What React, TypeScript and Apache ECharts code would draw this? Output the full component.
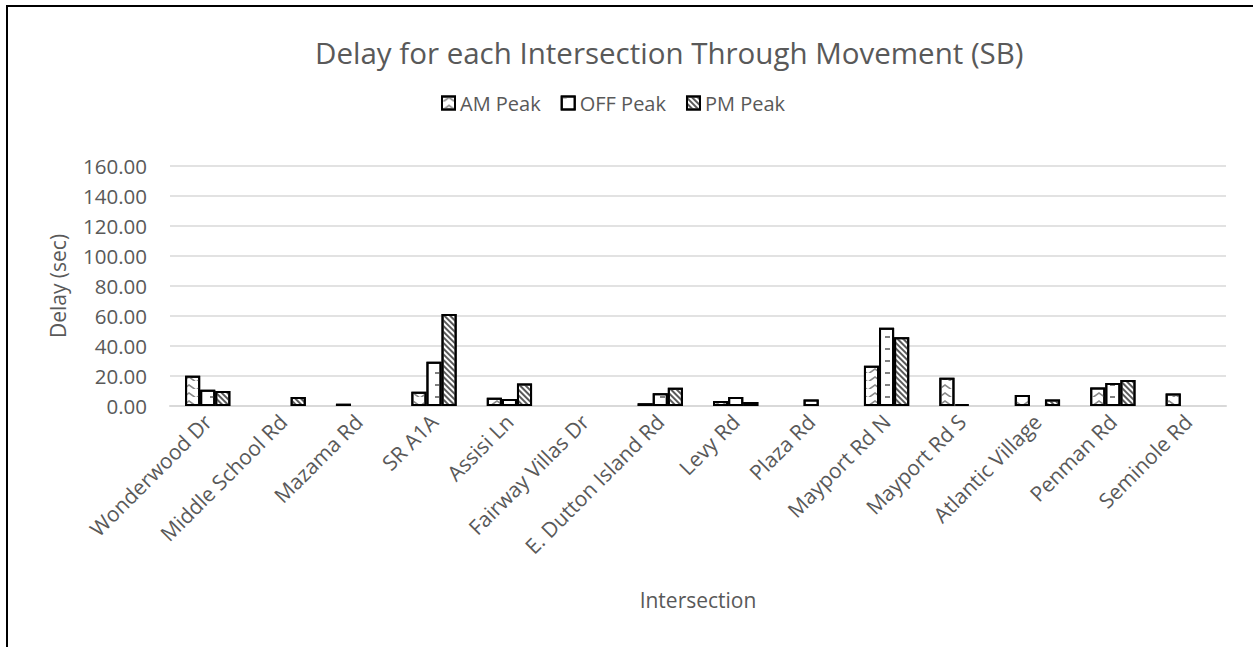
import React, { useEffect, useRef } from "react";
import * as echarts from "echarts";

const categories = [
  "Wonderwood Dr",
  "Middle School Rd",
  "Mazama Rd",
  "SR A1A",
  "Assisi Ln",
  "Fairway Villas Dr",
  "E. Dutton Island Rd",
  "Levy Rd",
  "Plaza Rd",
  "Mayport Rd N",
  "Mayport Rd S",
  "Atlantic Village",
  "Penman Rd",
  "Seminole Rd",
];

const amPeak = [20.2, 0, 1.5, 9.5, 5.5, 0, 1.8, 3.3, 0, 26.9, 18.9, 7.3, 12.4, 8.4];
const offPeak = [10.9, 0, 0, 29.5, 4.7, 0, 8.5, 6.0, 4.4, 52.2, 1.2, 0, 15.3, 0];
const pmPeak = [10.0, 6.0, 0, 61.3, 15.0, 0, 12.2, 2.7, 0, 45.9, 0, 4.4, 17.3, 0];

const yTicks = { min: 0, max: 160, interval: 20 };

const FONT = "'Open Sans', sans-serif";
const GREY = "#595959";

// zero values draw nothing in the reference, so they are passed as empty
const toData = (arr: number[]) => arr.map((v) => (v === 0 ? "-" : v));

export default function App() {
  const ref = useRef<HTMLDivElement>(null);

  useEffect(() => {
    if (!ref.current) return;
    const chart = echarts.init(ref.current, undefined, { renderer: "svg" });
    const baseItem = { color: "#ffffff", borderColor: "#000000", borderWidth: 2 };
    chart.setOption({
      animation: false,
      textStyle: { fontFamily: FONT },
      graphic: [
        {
          type: "polyline",
          silent: true,
          shape: { points: [[7, 700], [7, 6], [1300, 6]] },
          style: { stroke: "#000", lineWidth: 2, fill: "none" },
        },
      ],
      title: {
        text: "Delay for each Intersection Through Movement (SB)",
        left: 310,
        top: 32,
        textStyle: { fontFamily: FONT, fontSize: 29.5, fontWeight: "normal", color: GREY },
      },
      legend: {
        left: 436,
        top: 88,
        itemWidth: 13,
        itemHeight: 13,
        itemGap: 20,
        icon: "rect",
        textStyle: { fontFamily: FONT, fontSize: 20, color: GREY },
        data: ["AM Peak", "OFF Peak", "PM Peak"],
      },
      grid: { left: 170, right: 27, top: 166, bottom: 241, containLabel: false },
      xAxis: {
        type: "category",
        data: categories,
        name: "Intersection",
        nameLocation: "middle",
        nameGap: 183,
        nameTextStyle: { fontFamily: FONT, fontSize: 21, color: GREY },
        axisTick: { show: false },
        axisLine: { lineStyle: { color: "#d9d9d9", width: 2 } },
        axisLabel: {
          rotate: 45,
          interval: 0,
          margin: 12,
          fontFamily: FONT,
          fontSize: 21,
          color: GREY,
        },
      },
      yAxis: {
        type: "value",
        min: yTicks.min,
        max: yTicks.max,
        interval: yTicks.interval,
        name: "Delay (sec)",
        nameLocation: "middle",
        nameGap: 102,
        nameRotate: 90,
        nameTextStyle: { fontFamily: FONT, fontSize: 21, color: GREY },
        axisLine: { show: false },
        axisTick: { show: false },
        axisLabel: {
          margin: 23,
          fontFamily: FONT,
          fontSize: 20.5,
          color: GREY,
          formatter: (v: number) => v.toFixed(2),
        },
        splitLine: { lineStyle: { color: "#d9d9d9", width: 1.5 } },
      },
      series: [
        {
          name: "AM Peak",
          type: "bar",
          data: toData(amPeak),
          barGap: "0%",
          barCategoryGap: "40%",
          itemStyle: {
            ...baseItem,
            decal: {
              symbol: "path://M0 10 L5 0 L10 10 L8 10 L5 4 L2 10 Z",
              symbolSize: 1,
              symbolKeepAspect: false,
              color: "#8a8a8a",
              backgroundColor: "#ffffff",
              dashArrayX: [[14, 0]],
              dashArrayY: [5, 3],
            },
          },
        },
        {
          name: "OFF Peak",
          type: "bar",
          data: toData(offPeak),
          itemStyle: {
            ...baseItem,
            decal: {
              symbol: "rect",
              symbolSize: 1,
              color: "#808080",
              backgroundColor: "#ffffff",
              dashArrayX: [5, 10],
              dashArrayY: [1.5, 10],
            },
          },
        },
        {
          name: "PM Peak",
          type: "bar",
          data: toData(pmPeak),
          itemStyle: {
            ...baseItem,
            decal: {
              symbol: "rect",
              symbolSize: 1,
              color: "#5a5a5a",
              backgroundColor: "#ffffff",
              dashArrayX: [[1, 0]],
              dashArrayY: [2, 2],
              rotation: Math.PI / 4,
            },
          },
        },
      ],
    });
    return () => chart.dispose();
  }, []);

  return (
    <div
      style={{
        position: "fixed",
        left: 0,
        top: 0,
        width: 1253,
        height: 647,
        background: "#fff",
        overflow: "hidden",
      }}
    >
      <div ref={ref} style={{ position: "absolute", left: 0, top: 0, width: 1253, height: 647 }} />
    </div>
  );
}
